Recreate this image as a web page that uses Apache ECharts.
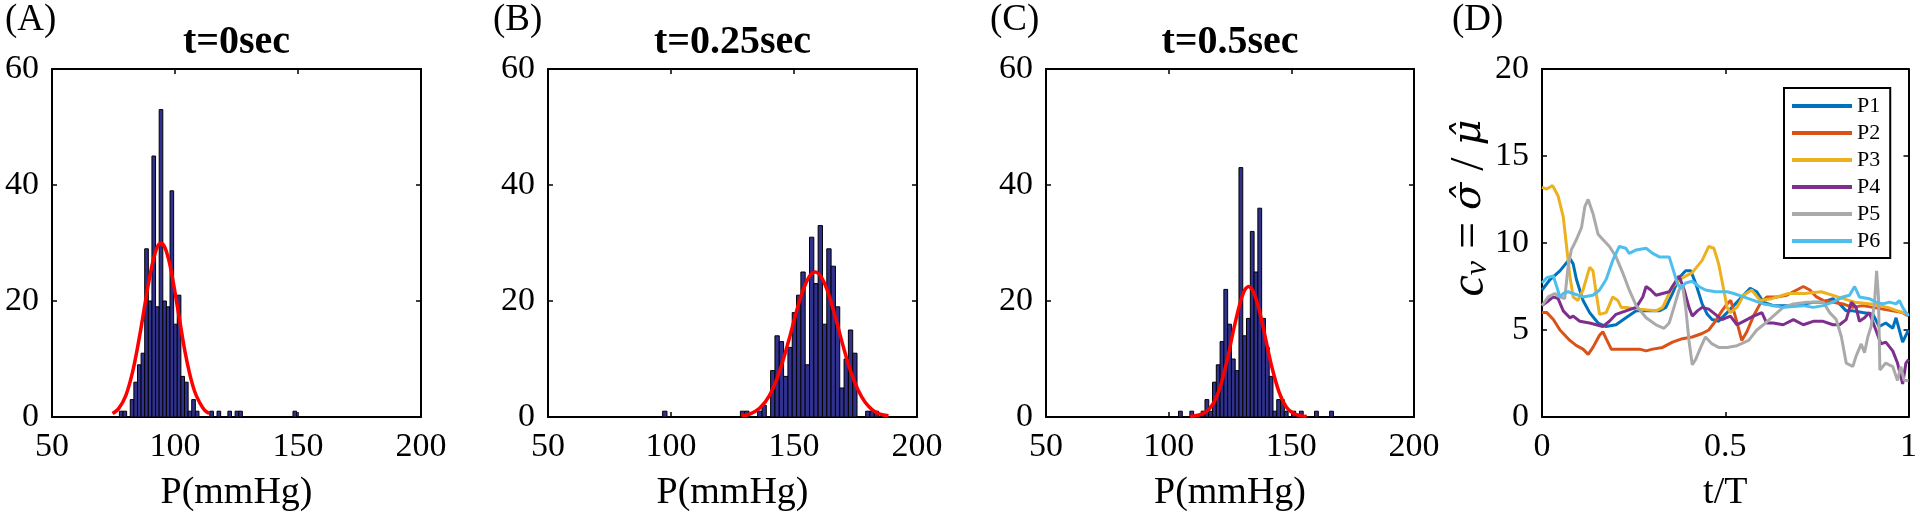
<!DOCTYPE html>
<html><head><meta charset="utf-8">
<script src="https://cdn.jsdelivr.net/npm/echarts@6/dist/echarts.min.js"></script>
<style>html,body{margin:0;padding:0;background:#fff}#c{width:1920px;height:519px}</style>
</head><body><div id="c"></div>
<script>
// ---------------- DATA ----------------
const panelLetters = ['(A)', '(B)', '(C)', '(D)'];
const panelTitles = ['t=0sec', 't=0.25sec', 't=0.5sec'];
const histXTicks = [50, 100, 150, 200];

// histogram A (t=0sec): first bin start, bin width, counts per bin
const histStartA = 77.4, histWidthA = 1.47;
const countsA = [1,1,0,3,6,9,11,29,20,45, 19,53,20,19,39,16,21,7,6,1, 3,1,0,0,0,1,0,1,0,0, 1,0,1,1,0,0,0,0,0,0, 0,0,0,0,0,0,0,0,1,0];
// histogram B (t=0.25sec)
const histStartB = 96.6, histWidthB = 1.756;
const countsB = [1,0,0,0,0,0,0,0,0,0, 0,0,0,0,0,0,0,0,1,1, 0,0,1,2,0,8,14,13,7,12, 18,21,25,9,31,23,33,16,29,26, 19,5,10,15,11,0,0,1,1,1];
// histogram C (t=0.5sec)
const histStartC = 99.4, histWidthC = 1.54;
const countsC = [0,0,0,1,0,0,1,0,0,1, 3,1,6,9,13,22,16,10,8,43, 14,17,32,25,36,17,12,7,1,3, 3,1,0,1,0,1,0,0,0,1, 0,0,0,1];

// fitted normal curves
const fitAx = [74.6,77,80,83,86,89,91,93,94.3,96,98,100,102,104,106,108,110,112,113.9];
const fitAy = [0.6,1.4,3.7,8.2,14.9,22.5,26.8,29.5,30,29.1,26.1,21.5,16.4,11.4,7.4,4.4,2.5,1.2,0.6];
const fitBx = [128.7,132,136,140,144,148,151,154,156.5,158.6,161,164,167,170,173,176,179,182,185,188.4];
const fitBy = [0.2,0.5,1.5,3.7,7.7,13.4,18.2,22.2,24.4,25,24.2,21.3,16.9,12.2,7.9,4.7,2.5,1.2,0.5,0.2];
const fitCx = [108.7,112,115,118,121,124,126.5,129,131,132.6,134.5,137,139.5,142,145,148,151,154,156.3];
const fitCy = [0.1,0.3,0.8,2.2,5.2,10.1,15.1,19.5,21.9,22.5,21.6,18.3,13.5,8.7,4.3,1.7,0.6,0.2,0.1];

// panel D: coefficient of variation vs t/T  [t/T, cv]
const seriesNames = ['P1','P2','P3','P4','P5','P6'];
const P1 = [[0,7.3],[0.022,7.9],[0.049,8.4],[0.076,9.1],[0.085,8.8],[0.094,7.9],[0.112,6.7],[0.13,6.0],[0.153,5.4],[0.175,5.2],[0.202,5.3],[0.229,5.7],[0.257,6.1],[0.284,6.1],[0.32,6.1],[0.338,6.3],[0.356,7.1],[0.374,8.0],[0.392,8.4],[0.406,8.4],[0.419,7.7],[0.437,6.5],[0.451,5.9],[0.464,5.6],[0.482,5.5],[0.505,6.0],[0.523,6.4],[0.55,7.0],[0.568,7.4],[0.586,7.2],[0.604,6.6],[0.631,6.4],[0.658,6.4],[0.686,6.4],[0.713,6.5],[0.74,6.6],[0.767,6.6],[0.794,6.8],[0.812,6.5],[0.83,6.1],[0.848,6.1],[0.875,6.0],[0.903,5.9],[0.92,5.2],[0.938,5.4],[0.957,5.1],[0.966,5.7],[0.975,5.0],[0.984,4.3],[0.993,4.7],[1.0,5.0]];
const P2 = [[0,6.0],[0.013,6.0],[0.031,5.6],[0.049,5.0],[0.076,4.4],[0.094,4.1],[0.112,3.9],[0.126,3.6],[0.139,4.0],[0.157,4.7],[0.166,4.9],[0.175,4.5],[0.189,3.9],[0.211,3.9],[0.238,3.9],[0.266,3.9],[0.284,3.8],[0.302,3.9],[0.329,4.0],[0.356,4.3],[0.383,4.5],[0.41,4.6],[0.437,4.8],[0.455,5.0],[0.473,5.5],[0.491,6.1],[0.505,6.5],[0.515,6.7],[0.53,5.6],[0.545,4.4],[0.559,4.9],[0.577,5.8],[0.595,6.5],[0.613,6.9],[0.64,6.9],[0.668,7.0],[0.695,7.3],[0.713,7.5],[0.731,7.3],[0.749,6.9],[0.767,6.7],[0.794,6.6],[0.821,6.5],[0.848,6.3],[0.875,6.4],[0.903,6.3],[0.93,6.2],[0.957,6.1],[0.984,6.0],[1.0,5.8]];
const P3 = [[0,13.2],[0.013,13.1],[0.029,13.3],[0.044,12.7],[0.058,11.5],[0.067,9.8],[0.076,8.1],[0.085,6.9],[0.098,6.7],[0.112,7.3],[0.13,8.6],[0.139,8.4],[0.148,7.1],[0.157,5.9],[0.175,6.0],[0.193,6.9],[0.207,6.7],[0.216,6.3],[0.229,6.3],[0.266,6.2],[0.311,6.1],[0.329,6.3],[0.356,7.5],[0.383,8.0],[0.41,8.3],[0.437,9.0],[0.455,9.8],[0.469,9.7],[0.482,8.8],[0.496,7.3],[0.505,6.3],[0.514,6.0],[0.532,6.3],[0.55,7.0],[0.572,7.3],[0.595,6.7],[0.627,6.8],[0.672,7.1],[0.717,7.1],[0.762,7.2],[0.807,6.9],[0.853,6.6],[0.898,6.5],[0.943,6.3],[0.97,6.1],[1.0,5.9]];
const P4 = [[0,6.4],[0.013,6.6],[0.031,6.9],[0.044,6.8],[0.058,6.1],[0.076,5.7],[0.085,5.8],[0.103,5.5],[0.13,5.4],[0.148,5.3],[0.166,5.2],[0.184,5.5],[0.202,5.9],[0.229,6.1],[0.257,6.3],[0.275,6.9],[0.284,7.5],[0.297,7.3],[0.311,7.0],[0.329,7.1],[0.347,7.2],[0.365,7.8],[0.374,8.1],[0.388,7.3],[0.401,6.3],[0.41,5.8],[0.424,6.1],[0.437,6.3],[0.455,6.2],[0.473,5.9],[0.491,5.6],[0.514,5.8],[0.532,5.3],[0.55,5.5],[0.577,5.8],[0.6,6.0],[0.613,5.4],[0.631,5.4],[0.658,5.3],[0.686,5.6],[0.713,5.3],[0.74,5.5],[0.767,5.5],[0.794,5.3],[0.812,5.3],[0.83,5.6],[0.844,6.6],[0.857,6.3],[0.866,5.5],[0.88,5.7],[0.893,6.0],[0.911,5.0],[0.925,4.2],[0.938,4.3],[0.957,3.8],[0.97,3.1],[0.984,1.9],[0.993,3.1],[1.0,3.3]];
const P5 = [[0,6.4],[0.017,6.9],[0.035,7.1],[0.049,6.9],[0.062,6.8],[0.071,8.6],[0.08,9.6],[0.094,10.2],[0.108,10.9],[0.117,12.1],[0.126,12.5],[0.139,11.7],[0.153,10.5],[0.166,10.2],[0.184,9.8],[0.202,9.2],[0.22,8.3],[0.238,7.3],[0.257,6.4],[0.284,5.7],[0.311,5.3],[0.333,5.1],[0.347,5.4],[0.36,6.3],[0.374,7.3],[0.383,7.6],[0.392,6.3],[0.401,4.4],[0.41,3.0],[0.419,3.3],[0.433,4.0],[0.446,4.6],[0.464,4.2],[0.482,4.0],[0.505,4.0],[0.532,4.1],[0.564,4.4],[0.586,5.0],[0.604,5.3],[0.631,5.8],[0.658,6.3],[0.686,6.5],[0.722,6.6],[0.749,6.6],[0.767,6.6],[0.785,6.0],[0.803,5.6],[0.817,4.6],[0.83,3.1],[0.848,2.9],[0.857,3.5],[0.871,4.2],[0.88,3.7],[0.889,4.6],[0.898,5.2],[0.907,6.5],[0.913,8.4],[0.918,6.9],[0.922,2.7],[0.938,3.1],[0.957,2.9],[0.97,2.1],[0.979,2.9],[0.988,2.1],[1.0,2.1]];
const P6 = [[0,7.7],[0.013,8.0],[0.031,8.1],[0.04,7.5],[0.049,6.9],[0.058,7.1],[0.071,7.2],[0.085,7.1],[0.112,6.9],[0.139,7.0],[0.157,7.3],[0.175,7.9],[0.193,9.0],[0.211,9.8],[0.229,9.7],[0.238,9.4],[0.257,9.6],[0.284,9.7],[0.302,9.4],[0.32,9.2],[0.347,9.2],[0.356,8.6],[0.369,7.7],[0.378,7.4],[0.392,7.7],[0.41,7.8],[0.428,7.5],[0.446,7.3],[0.473,7.2],[0.505,7.2],[0.523,7.1],[0.55,6.9],[0.577,6.7],[0.604,6.5],[0.631,6.4],[0.658,6.3],[0.713,6.4],[0.74,6.3],[0.767,6.4],[0.794,6.6],[0.821,6.9],[0.839,7.0],[0.853,7.5],[0.866,6.9],[0.893,6.8],[0.911,6.6],[0.93,6.5],[0.948,6.6],[0.966,6.5],[0.975,6.7],[0.984,6.3],[0.993,6.0],[1.0,5.8]];

// ---------------- STYLE / LAYOUT ----------------
const FONT = 'Liberation Serif';
const BAR_FILL = '#30308e';
const lineColors = ['#0072BD','#D95319','#EDB120','#7E2F8E','#AAAAAA','#4DBEEE'];
const grids = [
  {left:52, top:69, width:369, height:348},
  {left:548, top:69, width:369, height:348},
  {left:1046, top:69, width:368, height:348},
  {left:1542, top:69, width:369, height:348}
];

function axisCommon(primary) {
  return {
    axisLine: {show: true, onZero: false, lineStyle: {color: '#000', width: 2}},
    axisTick: {show: true, inside: true, length: 5, lineStyle: {color: '#000', width: 1.5}},
    splitLine: {show: false},
    axisLabel: primary ? {show: true, color: '#000', fontFamily: FONT, fontSize: 34} : {show: false}
  };
}

const xAxes = [], yAxes = [];
grids.forEach((g, i) => {
  const isD = i === 3;
  const xr = isD ? {min: 0, max: 1, interval: 0.5} : {min: histXTicks[0], max: histXTicks[histXTicks.length-1], interval: 50};
  const yr = isD ? {min: 0, max: 20, interval: 5} : {min: 0, max: 60, interval: 20};
  const xp = Object.assign({type: 'value', gridIndex: i, position: 'bottom'}, xr, axisCommon(true));
  xp.axisLabel.margin = 13;
  xp.name = isD ? 't/T' : 'P(mmHg)';
  xp.nameLocation = 'middle';
  xp.nameGap = 57;
  xp.nameTextStyle = {fontFamily: FONT, fontSize: 38, color: '#000'};
  xAxes.push(xp);
  xAxes.push(Object.assign({type: 'value', gridIndex: i, position: 'top'}, xr, axisCommon(false)));
  const yp = Object.assign({type: 'value', gridIndex: i, position: 'left'}, yr, axisCommon(true));
  yp.axisLabel.margin = 13;
  yAxes.push(yp);
  yAxes.push(Object.assign({type: 'value', gridIndex: i, position: 'right'}, yr, axisCommon(false)));
});

function histData(start, width, counts) {
  const out = [];
  counts.forEach((c, k) => { if (c > 0) out.push([start + k*width, start + (k+1)*width, c]); });
  return out;
}
function pairs(xs, ys) { return xs.map((x, k) => [x, ys[k]]); }

function histSeries(i, data) {
  return {
    type: 'custom', xAxisIndex: 2*i, yAxisIndex: 2*i, clip: true,
    data: data,
    encode: {x: [0, 1], y: 2},
    renderItem: function (params, api) {
      const p0 = api.coord([api.value(0), api.value(2)]);
      const p1 = api.coord([api.value(1), 0]);
      return {type: 'rect', shape: {x: p0[0], y: p0[1], width: p1[0]-p0[0], height: p1[1]-p0[1]},
              style: {fill: BAR_FILL, stroke: '#000', lineWidth: 1}};
    },
    z: 2
  };
}
function fitSeries(i, data) {
  return {type: 'line', xAxisIndex: 2*i, yAxisIndex: 2*i, data: data, smooth: 0.3, symbol: 'none',
          lineStyle: {color: '#ff0000', width: 3.5}, z: 3, silent: true};
}

const series = [
  histSeries(0, histData(histStartA, histWidthA, countsA)), fitSeries(0, pairs(fitAx, fitAy)),
  histSeries(1, histData(histStartB, histWidthB, countsB)), fitSeries(1, pairs(fitBx, fitBy)),
  histSeries(2, histData(histStartC, histWidthC, countsC)), fitSeries(2, pairs(fitCx, fitCy))
];
[P1, P2, P3, P4, P5, P6].forEach((d, k) => {
  series.push({type: 'line', name: seriesNames[k], xAxisIndex: 6, yAxisIndex: 6, data: d, symbol: 'none',
               lineStyle: {color: lineColors[k], width: 3}, itemStyle: {color: lineColors[k]}, z: 3 + k});
});

const graphics = [];
const letterX = [5, 493, 990, 1452];
panelLetters.forEach((t, i) => graphics.push({type: 'text', x: letterX[i], y: 20,
  style: {text: t, fontFamily: FONT, fontSize: 37, fontWeight: 'normal', fill: '#000', align: 'left', verticalAlign: 'middle'}}));
panelTitles.forEach((t, i) => graphics.push({type: 'text', x: grids[i].left + grids[i].width/2, y: 43,
  style: {text: t, fontFamily: FONT, fontSize: 40, fontWeight: 'bold', fill: '#000', align: 'center', verticalAlign: 'middle'}}));
graphics.push({type: 'text', x: 1470, y: 208, rotation: Math.PI/2,
  style: {text: '{i|c}{s|v}{n| = }{g|σ̂}{n| / }{g|μ̂}', align: 'center', verticalAlign: 'middle', fill: '#000',
    rich: {
      i: {fontFamily: FONT, fontStyle: 'italic', fontSize: 48, fill: '#000', verticalAlign: 'middle', lineHeight: 48},
      s: {fontFamily: FONT, fontStyle: 'italic', fontSize: 32, fill: '#000', verticalAlign: 'bottom', lineHeight: 48},
      n: {fontFamily: FONT, fontSize: 48, fill: '#000', verticalAlign: 'middle', lineHeight: 48},
      g: {fontFamily: 'DejaVu Serif', fontStyle: 'italic', fontSize: 40, fill: '#000', verticalAlign: 'middle', lineHeight: 48}
    }}});

const chart = echarts.init(document.getElementById('c'), null, {renderer: 'canvas'});
chart.setOption({
  animation: false,
  backgroundColor: '#fff',
  grid: grids.map(g => Object.assign({show: false, containLabel: false}, g)),
  xAxis: xAxes,
  yAxis: yAxes,
  legend: {
    data: seriesNames, orient: 'vertical', left: 1784, top: 88,
    icon: 'rect', itemWidth: 60, itemHeight: 4, itemGap: 5,
    padding: [7, 10, 6, 8], borderColor: '#000', borderWidth: 2, backgroundColor: '#fff',
    textStyle: {fontFamily: FONT, fontSize: 22, color: '#000', lineHeight: 21}
  },
  graphic: graphics,
  series: series
});
</script></body></html>
